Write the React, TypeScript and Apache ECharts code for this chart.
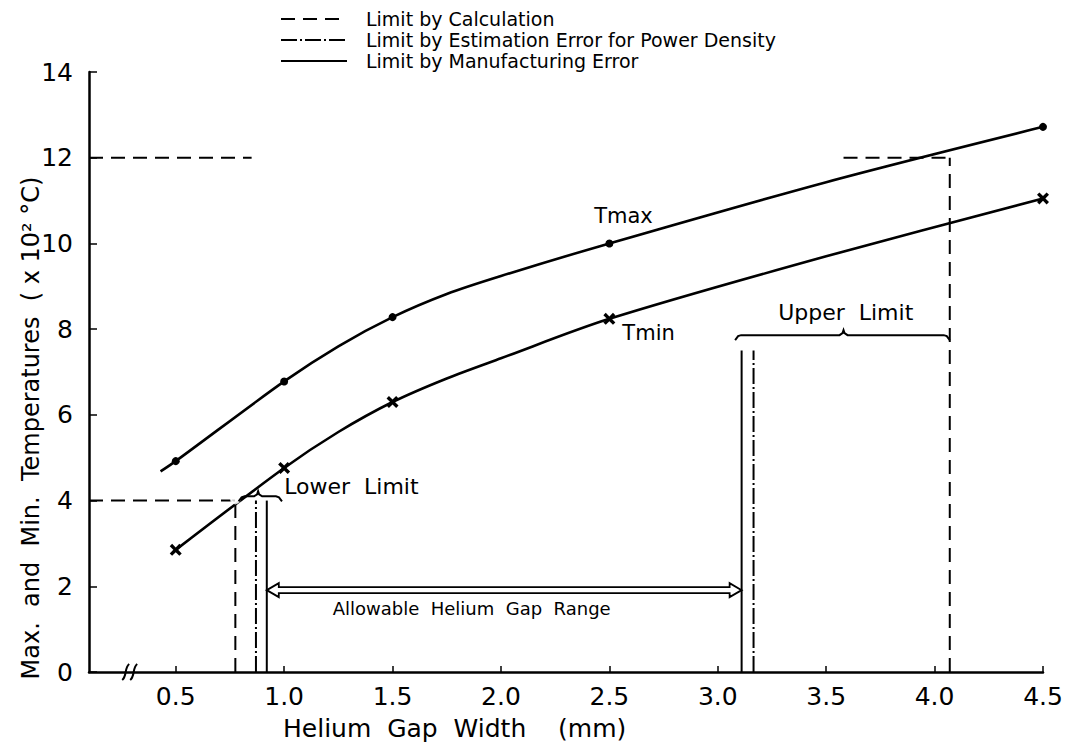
import React, { useEffect, useRef } from "react";
import * as echarts from "echarts";

// ---------- data ----------
const xTickValues = [0.5, 1.0, 1.5, 2.0, 2.5, 3.0, 3.5, 4.0, 4.5];
// points; marked = drawn with a marker
const tmaxPoints = [
  { x: 0.43, y: 4.68, marked: false },
  { x: 0.5, y: 4.92, marked: true },
  { x: 1.0, y: 6.78, marked: true },
  { x: 1.25, y: 7.6, marked: false },
  { x: 1.5, y: 8.28, marked: true },
  { x: 1.75, y: 8.82, marked: false },
  { x: 2.0, y: 9.24, marked: false },
  { x: 2.5, y: 10.0, marked: true },
  { x: 3.5, y: 11.43, marked: false },
  { x: 4.5, y: 12.72, marked: true },
];
const tminPoints = [
  { x: 0.5, y: 2.85, marked: true },
  { x: 1.0, y: 4.76, marked: true },
  { x: 1.25, y: 5.6, marked: false },
  { x: 1.5, y: 6.3, marked: true },
  { x: 1.75, y: 6.85, marked: false },
  { x: 2.0, y: 7.32, marked: false },
  { x: 2.5, y: 8.24, marked: true },
  { x: 3.5, y: 9.7, marked: false },
  { x: 4.5, y: 11.05, marked: true },
];
// Limit by Calculation (dashed)
const calcLimitSegments = [
  [[0.1, 12], [0.85, 12]],
  [[3.58, 12], [4.07, 12]],
  [[4.07, 0], [4.07, 12]],
  [[0.1, 4], [0.775, 4]],
  [[0.775, 0], [0.775, 4]],
];
// Limit by Estimation Error for Power Density (dash-dot)
const estimationLimitSegments = [
  [[0.87, 0], [0.87, 4.0]],
  [[3.165, 0], [3.165, 7.5]],
];
// Limit by Manufacturing Error (solid)
const manufacturingLimitSegments = [
  [[0.92, 0], [0.92, 4.0]],
  [[3.11, 0], [3.11, 7.5]],
];
const intersectionPoint = [[0.775, 4.04]];
// braces: [xStart, xEnd, xTip, y]
const lowerBrace = [0.79, 0.99, 0.88, 4.1];
const upperBrace = [3.08, 4.07, 3.58, 7.86];
// allowable range arrow: [xStart, xEnd, y]
const allowableArrow = [0.92, 3.11, 1.91];
const axisBreakX = 0.29;

const NB = "\u00a0";
const annotations = [
  { x: 2.43, y: 10.64, text: "Tmax", align: "left", size: 21 },
  { x: 2.56, y: 7.91, text: "Tmin", align: "left", size: 21 },
  { x: 1.0, y: 4.32, text: `Lower${NB}${NB}Limit`, align: "left", size: 22 },
  { x: 3.59, y: 8.38, text: `Upper${NB}${NB}Limit`, align: "center", size: 22 },
  {
    x: 1.865,
    y: 1.49,
    text: `Allowable${NB}${NB}Helium${NB}${NB}Gap${NB}${NB}Range`,
    align: "center",
    size: 18,
  },
];

const LEGEND_CALC = "Limit by Calculation";
const LEGEND_EST = "Limit by Estimation Error for Power Density";
const LEGEND_MAN = "Limit by Manufacturing Error";

const FONT = "'DejaVu Sans', 'Liberation Sans', sans-serif";
const INK = "#000";

const crossSymbol =
  "path://M2,0 L5,3 L8,0 L10,2 L7,5 L10,8 L8,10 L5,7 L2,10 L0,8 L3,5 L0,2 Z";

export default function App() {
  const ref = useRef<HTMLDivElement>(null);

  useEffect(() => {
    if (!ref.current) return;
    const chart = echarts.init(ref.current, null, { renderer: "svg" });

    const limitSeries = (
      name: string,
      segs: number[][][],
      type: any,
      width: number
    ) =>
      segs.map((seg) => ({
        type: "line",
        name,
        data: seg,
        symbol: "none",
        lineStyle: { color: INK, width, type },
        itemStyle: { color: INK },
        z: 3,
        silent: true,
      }));

    const curveData = (pts: { x: number; y: number; marked: boolean }[]) =>
      pts.map((p) =>
        p.marked ? [p.x, p.y] : { value: [p.x, p.y], symbol: "none" }
      );

    const decorations = {
      type: "custom",
      data: [[0, 0]],
      silent: true,
      z: 10,
      clip: false,
      renderItem: (_params: any, api: any) => {
        const children: any[] = [];
        const brace = (b: number[]) => {
          const [x0, x1, xt, y] = b;
          const p0 = api.coord([x0, y]);
          const p1 = api.coord([x1, y]);
          const pt = api.coord([xt, y]);
          const yy = p0[1];
          children.push({
            type: "polyline",
            shape: {
              points: [
                [p0[0], yy + 5],
                [p0[0] + 3, yy + 1],
                [p0[0] + 6, yy],
                [pt[0] - 4, yy],
                [pt[0] - 1, yy - 2],
                [pt[0], yy - 5],
                [pt[0] + 1, yy - 2],
                [pt[0] + 4, yy],
                [p1[0] - 6, yy],
                [p1[0] - 3, yy + 1],
                [p1[0], yy + 5],
              ],
            },
            style: { stroke: INK, lineWidth: 2, fill: null },
          });
        };
        brace(lowerBrace);
        brace(upperBrace);

        // double-line hollow arrow
        const [ax0, ax1, ay] = allowableArrow;
        const L = api.coord([ax0, ay]);
        const R = api.coord([ax1, ay]);
        const y = L[1];
        const h = 12;
        const w = 7;
        const s = 3;
        children.push({
          type: "polygon",
          shape: {
            points: [
              [L[0], y],
              [L[0] + h, y - w],
              [L[0] + h, y - s],
              [R[0] - h, y - s],
              [R[0] - h, y - w],
              [R[0], y],
              [R[0] - h, y + w],
              [R[0] - h, y + s],
              [L[0] + h, y + s],
              [L[0] + h, y + w],
            ],
          },
          style: { stroke: INK, lineWidth: 1.8, fill: "#fff" },
        });

        // axis break marks
        const b = api.coord([axisBreakX, 0]);
        [-4, 4].forEach((dx) => {
          children.push({
            type: "bezierCurve",
            shape: {
              x1: b[0] + dx - 4,
              y1: b[1] + 8,
              x2: b[0] + dx + 3,
              y2: b[1] - 8,
              cpx1: b[0] + dx + 1,
              cpy1: b[1] + 4,
              cpx2: b[0] + dx - 2,
              cpy2: b[1] - 4,
            },
            style: { stroke: INK, lineWidth: 2, fill: null },
          });
        });

        annotations.forEach((a) => {
          const p = api.coord([a.x, a.y]);
          children.push({
            type: "text",
            x: p[0],
            y: p[1],
            style: {
              text: a.text,
              fill: INK,
              font: `${a.size}px ${FONT}`,
              align: a.align,
              verticalAlign: "middle",
            },
          });
        });
        return { type: "group", children };
      },
    };

    const option: any = {
      animation: false,
      backgroundColor: "#fff",
      textStyle: { fontFamily: FONT, color: INK },
      grid: { left: 89, right: 24, top: 72, bottom: 77, containLabel: false },
      legend: {
        orient: "vertical",
        left: 275,
        top: 4,
        itemWidth: 66,
        itemHeight: 10,
        itemGap: 1,
        selectedMode: false,
        data: [LEGEND_CALC, LEGEND_EST, LEGEND_MAN],
        itemStyle: { opacity: 0 },
        textStyle: {
          fontSize: 19,
          fontFamily: FONT,
          color: INK,
          lineHeight: 20,
          padding: [0, 0, 0, 14],
        },
      },
      xAxis: {
        type: "value",
        min: 0.1,
        max: 4.5,
        axisLine: { show: true, lineStyle: { color: INK, width: 2.5 } },
        axisTick: {
          show: true,
          inside: true,
          length: 6,
          customValues: xTickValues,
          lineStyle: { color: INK, width: 1.5 },
        },
        axisLabel: {
          customValues: xTickValues,
          formatter: (v: number) => v.toFixed(1),
          fontSize: 25,
          fontFamily: FONT,
          color: INK,
          margin: 12,
        },
        splitLine: { show: false },
      },
      yAxis: {
        type: "value",
        min: 0,
        max: 14,
        interval: 2,
        axisLine: { show: true, lineStyle: { color: INK, width: 2.5 } },
        axisTick: {
          show: true,
          inside: true,
          length: 8,
          lineStyle: { color: INK, width: 1.5 },
        },
        axisLabel: {
          fontSize: 25,
          fontFamily: FONT,
          color: INK,
          margin: 16,
        },
        splitLine: { show: false },
      },
      graphic: [
        {
          type: "text",
          x: 31,
          y: 428,
          rotation: Math.PI / 2,
          style: {
            text: `Max.${NB}${NB}and${NB}${NB}Min.${NB}${NB}Temperatures${NB}${NB}(${NB}x${NB}10²${NB}°C)`,
            font: `24px ${FONT}`,
            fill: INK,
            align: "center",
            verticalAlign: "middle",
          },
        },
        {
          type: "text",
          x: 283,
          y: 728,
          style: {
            text: `Helium${NB}${NB}Gap${NB}${NB}Width${NB}${NB}${NB}${NB}(mm)`,
            font: `25px ${FONT}`,
            fill: INK,
            align: "left",
            verticalAlign: "middle",
          },
        },
      ],
      series: [
        {
          type: "line",
          name: "Tmax",
          data: curveData(tmaxPoints),
          smooth: 0.3,
          symbol: "circle",
          symbolSize: 8,
          lineStyle: { color: INK, width: 2.6 },
          itemStyle: { color: INK },
          z: 5,
        },
        {
          type: "line",
          name: "Tmin",
          data: curveData(tminPoints),
          smooth: 0.3,
          symbol: crossSymbol,
          symbolSize: 12,
          lineStyle: { color: INK, width: 2.6 },
          itemStyle: { color: INK },
          z: 5,
        },
        ...limitSeries(LEGEND_CALC, calcLimitSegments, [14, 8], 2),
        ...limitSeries(LEGEND_EST, estimationLimitSegments, [16, 3, 2, 3], 2),
        ...limitSeries(LEGEND_MAN, manufacturingLimitSegments, "solid", 2),
        {
          type: "scatter",
          name: "intersection",
          data: intersectionPoint,
          symbol: "emptyCircle",
          symbolSize: 9,
          itemStyle: { color: "#fff", borderColor: INK, borderWidth: 1.6 },
          z: 6,
        },
        decorations,
      ],
    };
    chart.setOption(option);
    return () => chart.dispose();
  }, []);

  return (
    <div
      ref={ref}
      style={{
        position: "fixed",
        left: 0,
        top: 0,
        width: 1067,
        height: 749,
        background: "#fff",
      }}
    />
  );
}
